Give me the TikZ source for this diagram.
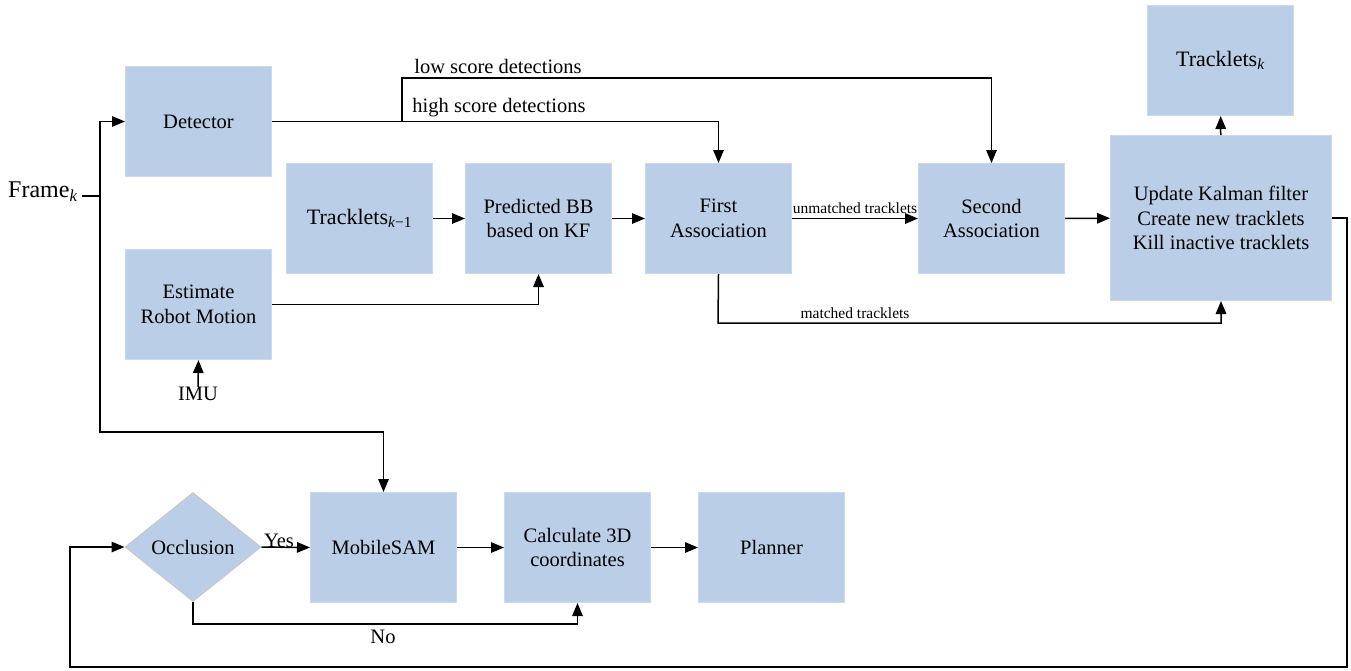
\documentclass[tikz,border=0pt]{standalone}
\usepackage{fontspec}
\setmainfont{Liberation Serif}
\usetikzlibrary{arrows.meta,shapes.geometric}
\definecolor{boxblue}{HTML}{BBCEE7}
\definecolor{boxedge}{HTML}{CCD9EC}
\definecolor{diaedge}{HTML}{C8C8C8}
\begin{document}
\begin{tikzpicture}[x=1pt,y=-1pt,
  box/.style={fill=boxblue, draw=boxedge, line width=1pt, minimum width=146pt, minimum height=110pt,
    inner sep=0pt, align=center, anchor=north west, font=\fontsize{20.5}{24.5}\selectfont},
  bigtxt/.style={font=\fontsize{22}{26}\selectfont},
  dia/.style={diamond, fill=boxblue, draw=diaedge, line width=1pt, minimum width=136pt, minimum height=109pt,
    inner sep=0pt, font=\fontsize{20.5}{24.5}\selectfont},
  lab/.style={inner sep=0pt, font=\fontsize{20.5}{24.5}\selectfont},
  smalllab/.style={inner sep=0pt, font=\fontsize{15.5}{18}\selectfont},
  ln/.style={line width=1.5pt, black},
  arr/.style={ln, -{Triangle[length=13pt,width=10.5pt]}},
]
\useasboundingbox (0,0) rectangle (1351,670);

% boxes
\node[box] (det) at (125,66) {Detector};
\node[box] (est) at (125,249) {Estimate\\Robot Motion};
\node[box, bigtxt] (tk1) at (286,163) {Tracklets\textsubscript{\textit{k}−1}};
\node[box] (pbb) at (465,163) {Predicted BB\\based on KF};
\node[box] (fa) at (645,163) {First\\Association};
\node[box] (sa) at (918,163) {Second\\Association};
\node[box, minimum width=221pt, minimum height=165pt] (upd) at (1110,135) {Update Kalman filter\\Create new tracklets\\Kill inactive tracklets};
\node[box, bigtxt] (tkk) at (1147,5) {Tracklets\textsubscript{\textit{k}}};

\node[dia] (occ) at (193,547) {Occlusion};
\node[box] (sam) at (310,492) {MobileSAM};
\node[box] (calc) at (504,492) {Calculate 3D\\coordinates};
\node[box] (plan) at (698,492) {Planner};

% texts
\node[inner sep=0pt, anchor=west, font=\fontsize{24}{28}\selectfont] (frame) at (8,192) {Frame\textsubscript{\textit{k}}};
\node[lab] (imu) at (198,394) {IMU};
\node[lab] (lowlab) at (498,66) {low score detections};
\node[lab] (highlab) at (499,108) {high score detections};
\node[smalllab] (unm) at (855,208) {unmatched tracklets};
\node[smalllab] (mat) at (855,313) {matched tracklets};
\node[lab] (yes) at (279,541) {Yes};
\node[lab] (no) at (383,637) {No};

% coordinates
\coordinate (split) at (100,196);
\coordinate (down) at (100,432);
\coordinate (br) at (402,121);
\coordinate (lowc) at (402,78);
\coordinate (mc) at (718,323);
\coordinate (r1) at (1347,218);
\coordinate (r2) at (1347,667);
\coordinate (r3) at (70,667);
\coordinate (r4) at (70,547);
\coordinate (nc) at (193,624);

% connectors
\draw[ln] ([xshift=4pt]frame.east |- split) -- (split);
\draw[arr] (split) |- (det.west);
\draw[arr] (split) -- (down) -| (sam.north);
\draw[arr] (det.east) -| (fa.north);
\draw[arr] (br) -- (lowc) -| (sa.north);
\draw[arr] (est.east) -| (pbb.south);
\draw[arr] (imu.north) -- (est.south);
\draw[arr] (tk1) -- (pbb);
\draw[arr] (pbb) -- (fa);
\draw[arr] (fa) -- (sa);
\draw[arr] (sa) -- (upd);
\draw[arr] (upd) -- (tkk);
\draw[arr] (fa.south) -- (mc) -| (upd.south);
\draw[arr] (upd.east |- r1) -- (r1) -- (r2) -- (r3) -- (r4) -- (occ.west);
\draw[arr] (occ.east) -- (sam.west);
\draw[arr] (occ.south) -- (nc) -| (calc.south);
\draw[arr] (sam) -- (calc);
\draw[arr] (calc) -- (plan);
\end{tikzpicture}
\end{document}
